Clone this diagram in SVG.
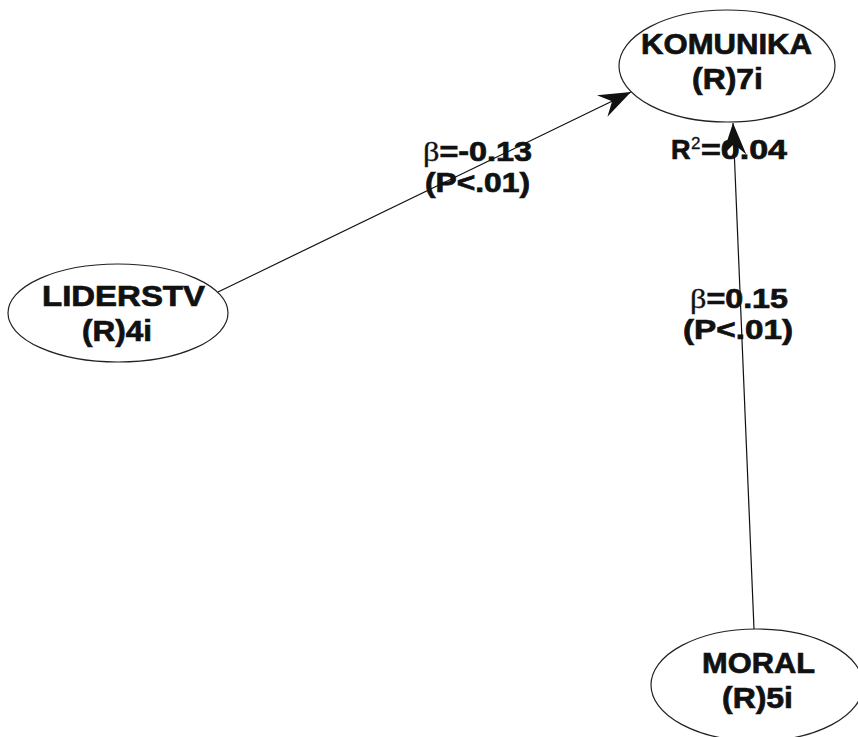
<svg xmlns="http://www.w3.org/2000/svg" width="858" height="737" viewBox="0 0 858 737">
  <style>
    .node ellipse { fill: #ffffff; stroke: #222222; stroke-width: 1.2; }
    .lbl { font-family: "Liberation Sans", Arial, sans-serif; font-weight: bold; font-size: 29px; fill: #111111; stroke: #111111; stroke-width: 0.7; }
    .elbl { font-family: "Liberation Sans", Arial, sans-serif; font-weight: bold; font-size: 27px; fill: #111111; stroke: #111111; stroke-width: 0.7; }
    .sym { font-family: "Liberation Serif", "DejaVu Serif", serif; font-weight: normal; stroke-width: 0.3; }
    .edge { stroke: #111111; stroke-width: 1.2; fill: none; }
  </style>
  <defs>
    <marker id="arrow" markerUnits="userSpaceOnUse" markerWidth="36" markerHeight="28" refX="34" refY="13" orient="auto" viewBox="0 0 36 26">
      <path d="M34,13 L2,1 L13,13 L2,25 Z" fill="#111111"/>
    </marker>
  </defs>
  <rect width="858" height="737" fill="#ffffff"/>

  <!-- path connectors -->
  <g id="connectors">
    <line class="edge" x1="218" y1="292" x2="631" y2="92" marker-end="url(#arrow)"/>
    <line class="edge" x1="754" y1="629" x2="733" y2="123" marker-end="url(#arrow)"/>
  </g>

  <!-- latent variables -->
  <g id="komunika" class="node">
    <ellipse cx="727" cy="66" rx="108" ry="56"/>
    <text class="lbl" x="641" y="54" textLength="171" lengthAdjust="spacingAndGlyphs">KOMUNIKA</text>
    <text class="lbl" x="692" y="89" textLength="71" lengthAdjust="spacingAndGlyphs">(R)7i</text>
  </g>
  <g id="liderstv" class="node">
    <ellipse cx="118" cy="313" rx="110" ry="49"/>
    <text class="lbl" x="42" y="306" textLength="163" lengthAdjust="spacingAndGlyphs">LIDERSTV</text>
    <text class="lbl" x="82" y="341" textLength="70" lengthAdjust="spacingAndGlyphs">(R)4i</text>
  </g>
  <g id="moral" class="node">
    <ellipse cx="757" cy="685" rx="106" ry="56"/>
    <text class="lbl" x="702" y="673" textLength="113" lengthAdjust="spacingAndGlyphs">MORAL</text>
    <text class="lbl" x="722" y="708" textLength="71" lengthAdjust="spacingAndGlyphs">(R)5i</text>
  </g>

  <!-- coefficient labels -->
  <g id="labels">
    <text class="elbl" x="423" y="161" textLength="109" lengthAdjust="spacingAndGlyphs"><tspan class="sym">β</tspan>=-0.13</text>
    <text class="elbl" x="425" y="192" textLength="105" lengthAdjust="spacingAndGlyphs">(P&lt;.01)</text>
    <text class="elbl" x="671" y="159">R</text>
    <text class="elbl" x="691" y="149" style="font-size:17px;font-weight:normal;stroke-width:0.3">2</text>
    <text class="elbl" x="701" y="159" textLength="86" lengthAdjust="spacingAndGlyphs">=0.04</text>
    <text class="elbl" x="690" y="308" textLength="98" lengthAdjust="spacingAndGlyphs"><tspan class="sym">β</tspan>=0.15</text>
    <text class="elbl" x="683" y="339" textLength="110" lengthAdjust="spacingAndGlyphs">(P&lt;.01)</text>
  </g>
</svg>
